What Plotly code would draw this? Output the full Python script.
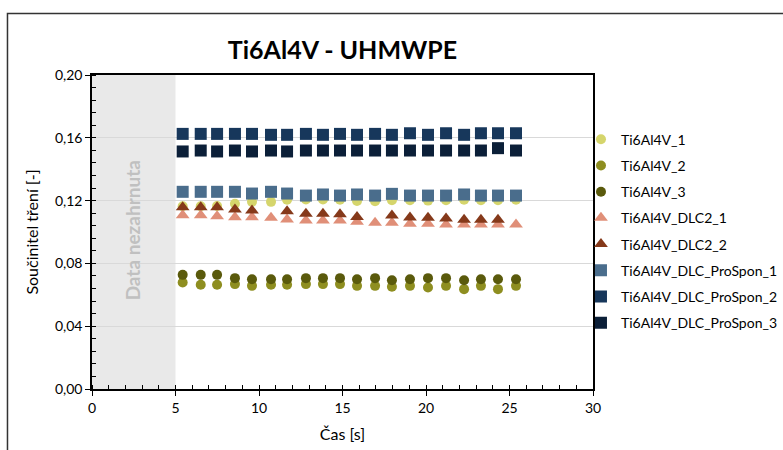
import plotly.graph_objects as go

cas = [5.43, 6.51, 7.49, 8.56, 9.58, 10.72, 11.68, 12.81, 13.83, 14.85,
       15.87, 16.95, 17.96, 19.04, 20.12, 21.2, 22.28, 23.29, 24.31, 25.39]

ti_1 = [0.1164, 0.1164, 0.1166, 0.1180, 0.1192, 0.1192, 0.1205, 0.1207, 0.1207, 0.1205,
        0.1198, 0.1196, 0.1203, 0.1203, 0.1200, 0.1203, 0.1205, 0.1203, 0.1203, 0.1205]
ti_2 = [0.0678, 0.0664, 0.0664, 0.0668, 0.0657, 0.0664, 0.0664, 0.0668, 0.0668, 0.0668,
        0.0657, 0.0657, 0.0651, 0.0657, 0.0646, 0.0657, 0.0636, 0.0657, 0.0636, 0.0657]
ti_3 = [0.0727, 0.0727, 0.0727, 0.0706, 0.0699, 0.0699, 0.0699, 0.0706, 0.0706, 0.0706,
        0.0699, 0.0706, 0.0693, 0.0699, 0.0706, 0.0706, 0.0693, 0.0699, 0.0699, 0.0699]
dlc2_1 = [0.1107, 0.1107, 0.1101, 0.1094, 0.1094, 0.1090, 0.1080, 0.1073, 0.1073, 0.1073,
          0.1065, 0.1059, 0.1059, 0.1052, 0.1052, 0.1048, 0.1048, 0.1048, 0.1048, 0.1048]
dlc2_2 = [0.1158, 0.1158, 0.1158, 0.1143, 0.1137, None, 0.1132, 0.1116, 0.1116, 0.1113,
          0.1095, None, 0.1105, 0.1092, 0.1090, 0.1086, 0.1078, 0.1078, 0.1078, None]
prospon_1 = [0.1256, 0.1256, 0.1256, 0.1256, 0.1245, 0.1256, 0.1245, 0.1232, 0.1239, 0.1232,
             0.1239, 0.1232, 0.1243, 0.1232, 0.1232, 0.1232, 0.1239, 0.1232, 0.1232, 0.1232]
prospon_2 = [0.1625, 0.1625, 0.1625, 0.1625, 0.1625, 0.1619, 0.1619, 0.1625, 0.1619, 0.1625,
             0.1619, 0.1625, 0.1619, 0.1629, 0.1619, 0.1629, 0.1619, 0.1629, 0.1629, 0.1629]
prospon_3 = [0.1513, 0.1519, 0.1513, 0.1519, 0.1513, 0.1519, 0.1513, 0.1519, 0.1519, 0.1519,
             0.1519, 0.1519, 0.1519, 0.1519, 0.1519, 0.1519, 0.1519, 0.1519, 0.1534, 0.1519]

series = [
    ("Ti6Al4V_1", ti_1, "circle", "#d5d56c", 10),
    ("Ti6Al4V_2", ti_2, "circle", "#8e8e20", 10),
    ("Ti6Al4V_3", ti_3, "circle", "#5a5a0c", 10),
    ("Ti6Al4V_DLC2_1", dlc2_1, "triangle-up", "#e08f78", 12),
    ("Ti6Al4V_DLC2_2", dlc2_2, "triangle-up", "#85391a", 12),
    ("Ti6Al4V_DLC_ProSpon_1", prospon_1, "square", "#4a6d8c", 12),
    ("Ti6Al4V_DLC_ProSpon_2", prospon_2, "square", "#17375b", 12),
    ("Ti6Al4V_DLC_ProSpon_3", prospon_3, "square", "#0b1f38", 12),
]

FONT = "Lato"
fig = go.Figure()
for name, vals, sym, col, sz in series:
    fig.add_trace(go.Scatter(
        x=cas, y=vals, mode="markers", name=name, legendgroup=name,
        marker=dict(symbol=sym, color=col, size=sz, line=dict(width=0)),
    ))

# excluded region
fig.add_shape(type="rect", xref="x", yref="y", x0=0, x1=5, y0=0, y1=0.2,
              fillcolor="#e9e9e9", line=dict(width=0), layer="below")
fig.add_annotation(x=2.45, y=0.101, xref="x", yref="y", text="<b>Data nezahrnuta</b>",
                   textangle=-90, showarrow=False,
                   font=dict(family=FONT, size=19, color="#c0c0c0"))

# outer chart frame
fig.add_shape(type="rect", xref="paper", yref="paper",
              x0=-0.1687, x1=1.40, y0=-0.25, y1=1.196,
              line=dict(color="#333333", width=1.5), fillcolor="rgba(0,0,0,0)")

fig.update_layout(
    width=783, height=450,
    margin=dict(l=92, r=190, t=75, b=61, autoexpand=False),
    paper_bgcolor="white", plot_bgcolor="white",
    separators=", ",
    font=dict(family=FONT, size=13, color="#000000"),
    title=dict(text="<b>Ti6Al4V - UHMWPE</b>", x=(92 + 593) / 2 / 783, xanchor="center",
               y=1 - 50 / 450, yanchor="middle",
               font=dict(family=FONT, size=25, color="#000000")),
    showlegend=True,
    legend=dict(x=0.976, xanchor="left", y=0.845, yanchor="top",
                font=dict(family=FONT, size=14, color="#000000"),
                itemwidth=30, tracegroupgap=5, bgcolor="rgba(0,0,0,0)"),
    xaxis=dict(range=[0, 30], dtick=5, tick0=0,
               showline=True, linecolor="#000000", linewidth=1.5, mirror=True,
               ticks="outside", ticklen=5, tickcolor="#000000",
               minor=dict(dtick=1, ticks="inside", ticklen=4, tickcolor="#000000"),
               showgrid=False, zeroline=False,
               tickfont=dict(family=FONT, size=14),
               title=dict(text="Čas [s]", font=dict(family=FONT, size=16), standoff=14)),
    yaxis=dict(range=[0, 0.2], dtick=0.04, tick0=0, tickformat=".2f",
               showline=True, linecolor="#000000", linewidth=1.5, mirror=True,
               ticks="outside", ticklen=5, tickcolor="#000000",
               minor=dict(dtick=0.008, ticks="inside", ticklen=4, tickcolor="#000000"),
               showgrid=True, gridcolor="#d9d9d9", gridwidth=1, zeroline=False,
               tickfont=dict(family=FONT, size=14),
               title=dict(text="Součinitel tření [-]", font=dict(family=FONT, size=16), standoff=12)),
)

fig.write_html("out.html")
